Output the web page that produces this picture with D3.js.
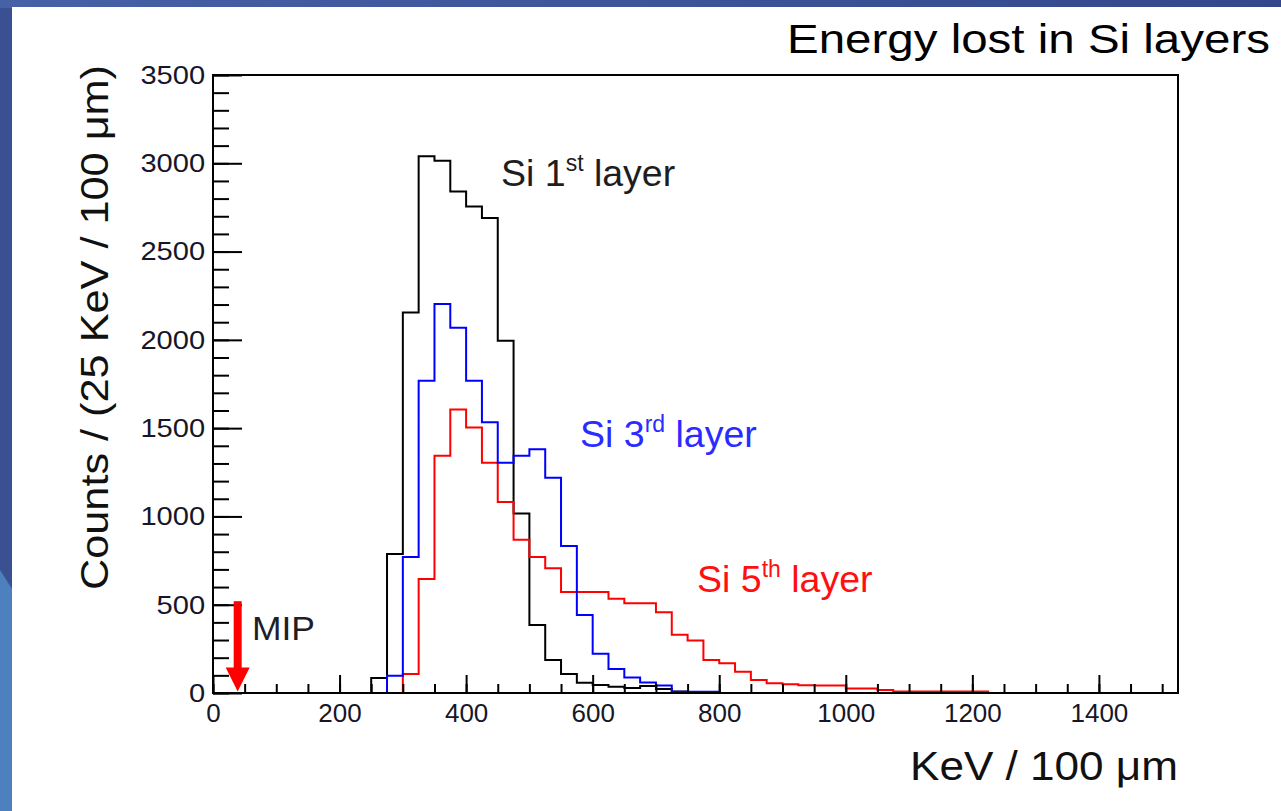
<!DOCTYPE html>
<html>
<head>
<meta charset="utf-8">
<script src="https://cdn.jsdelivr.net/npm/d3@7"></script>
<style>
  body { margin: 0; background: #3c5393; }
  svg { display: block; }
  text { font-family: "Liberation Sans", Arial, sans-serif; }
</style>
</head>
<body>
<svg id="chart" width="1281" height="811"></svg>
<script>
// bins of 25 KeV from 0 to 1525
var binWidth = 25;
var xMax = 1525;

// counts per bin, Si 1st layer (black)
var layer1 = [0,0,0,0,0,0,0,0,0,0,
  85,787,2155,3040,3015,2840,2755,2690,1995,1017,
  385,187,107,58,45,36,28,40,22,8,
  4,2,0,0,0,0,0,0,0,0,
  0,0,0,0,0,0,0,0,0,0,
  0,0,0,0,0,0,0,0,0,0,0];

// Si 3rd layer (blue)
var layer3 = [0,0,0,0,0,0,0,0,0,0,
  0,98,770,1768,2203,2069,1768,1533,1304,1344,
  1380,1219,832,442,223,136,88,60,43,7,
  7,7,0,0,0,0,0,0,0,0,
  0,0,0,0,0,0,0,0,0,0,
  0,0,0,0,0,0,0,0,0,0,0];

// Si 5th layer (red)
var layer5 = [0,0,0,0,0,0,0,0,0,0,
  0,0,107,645,1344,1606,1504,1304,1082,868,
  770,706,572,572,572,534,509,509,458,330,
  298,187,168,121,74,55,49,44,43,43,
  26,26,17,8,8,8,8,8,8,0,
  0,0,0,0,0,0,0,0,0,0,0];

var xMajor = [0, 200, 400, 600, 800, 1000, 1200, 1400];
var xMinor = d3.range(0, 1525, 50);
var yMajor = [0, 500, 1000, 1500, 2000, 2500, 3000, 3500];
var yMinor = d3.range(0, 3501, 100);

var mipEnergy = 39;

var svg = d3.select("#chart");

// slide background
var defs = svg.append("defs");
var g1 = defs.append("linearGradient").attr("id", "topband");
g1.append("stop").attr("offset", "0%").attr("stop-color", "#4761a6");
g1.append("stop").attr("offset", "100%").attr("stop-color", "#33488b");

svg.append("rect").attr("width", 1281).attr("height", 811).attr("fill", "#3b5091");
svg.append("rect").attr("width", 1281).attr("height", 8).attr("fill", "url(#topband)");
svg.append("polygon").attr("points", "0,570 14,592 14,811 0,811").attr("fill", "#4e80bf");
svg.append("rect").attr("x", 12).attr("y", 7).attr("width", 1269).attr("height", 804).attr("fill", "#ffffff");

// scales
var x = d3.scaleLinear().domain([0, xMax]).range([213, 1178]);
var y = d3.scaleLinear().domain([0, 3500]).range([693, 75]);

// histograms
function steps(counts) {
  var pts = counts.map(function (c, i) { return [i * binWidth, c]; });
  pts.push([counts.length * binWidth, counts[counts.length - 1]]);
  return pts;
}
var line = d3.line()
  .x(function (d) { return x(d[0]); })
  .y(function (d) { return y(d[1]); })
  .curve(d3.curveStepAfter);

[[layer1, "#000000"], [layer5, "#ff0000"], [layer3, "#0000ff"]].forEach(function (h) {
  svg.append("path")
    .attr("d", line(steps(h[0])))
    .attr("fill", "none")
    .attr("stroke", h[1])
    .attr("stroke-width", 2);
});

// axes (ticks point into the frame)
var fmt = d3.format("d");
var xAxis = svg.append("g").attr("transform", "translate(0,693)")
  .call(d3.axisBottom(x).tickValues(xMajor).tickFormat(fmt).tickSizeInner(-18).tickSizeOuter(0).tickPadding(11));
svg.append("g").attr("transform", "translate(0,693)")
  .call(d3.axisBottom(x).tickValues(xMinor).tickSizeInner(-9).tickSizeOuter(0).tickFormat(""));
var yAxis = svg.append("g").attr("transform", "translate(213,0)")
  .call(d3.axisLeft(y).tickValues(yMajor).tickFormat(fmt).tickSizeInner(-29).tickSizeOuter(0).tickPadding(7));
svg.append("g").attr("transform", "translate(213,0)")
  .call(d3.axisLeft(y).tickValues(yMinor).tickSizeInner(-16).tickSizeOuter(0).tickFormat(""));

svg.selectAll(".domain").remove();
svg.selectAll(".tick line").attr("stroke", "#000").attr("stroke-width", 2);
svg.selectAll(".tick text")
  .attr("font-size", 26)
  .attr("fill", "#161628")
  .style("font-family", "'Liberation Sans', Arial, sans-serif");
yAxis.selectAll(".tick text").attr("transform", "scale(1.12,1)");

// frame
svg.append("rect")
  .attr("x", x(0)).attr("y", y(3500))
  .attr("width", x(xMax) - x(0)).attr("height", y(0) - y(3500))
  .attr("fill", "none").attr("stroke", "#000").attr("stroke-width", 2);

// MIP arrow
var ax = x(mipEnergy);
svg.append("rect")
  .attr("x", ax - 4).attr("y", y(520))
  .attr("width", 8).attr("height", y(140) - y(520))
  .attr("fill", "#ff0000");
svg.append("polygon")
  .attr("points", [[ax - 12, y(145)], [ax + 12, y(145)], [ax, y(8)]].join(" "))
  .attr("fill", "#ff0000");
svg.append("text").attr("x", 252).attr("y", 640)
  .attr("font-size", 34).attr("fill", "#1e1e2a")
  .attr("textLength", 63).attr("lengthAdjust", "spacingAndGlyphs")
  .text("MIP");

// layer labels
function label(px, py, num, sup, color) {
  var t = svg.append("text").attr("x", px).attr("y", py)
    .attr("font-size", 37.5).attr("fill", color);
  t.append("tspan").text("Si " + num);
  t.append("tspan").attr("font-size", 23).attr("dy", -15).text(sup);
  t.append("tspan").attr("dy", 15).text(" layer");
  return t;
}
label(501, 186, "1", "st", "#1e1e1e");
label(580, 447, "3", "rd", "#2b2bff");
label(697, 592, "5", "th", "#ff1010");

// titles
svg.append("text")
  .attr("x", 787).attr("y", 53)
  .attr("font-size", 41).attr("fill", "#000")
  .attr("textLength", 483).attr("lengthAdjust", "spacingAndGlyphs")
  .text("Energy lost in Si layers");

svg.append("text")
  .attr("x", 910).attr("y", 780)
  .attr("font-size", 40).attr("fill", "#111")
  .attr("textLength", 268).attr("lengthAdjust", "spacingAndGlyphs")
  .text("KeV / 100 μm");

svg.append("text")
  .attr("transform", "translate(108,590) rotate(-90)")
  .attr("font-size", 38).attr("fill", "#111")
  .attr("textLength", 525).attr("lengthAdjust", "spacingAndGlyphs")
  .text("Counts / (25 KeV / 100 μm)");
</script>
</body>
</html>
